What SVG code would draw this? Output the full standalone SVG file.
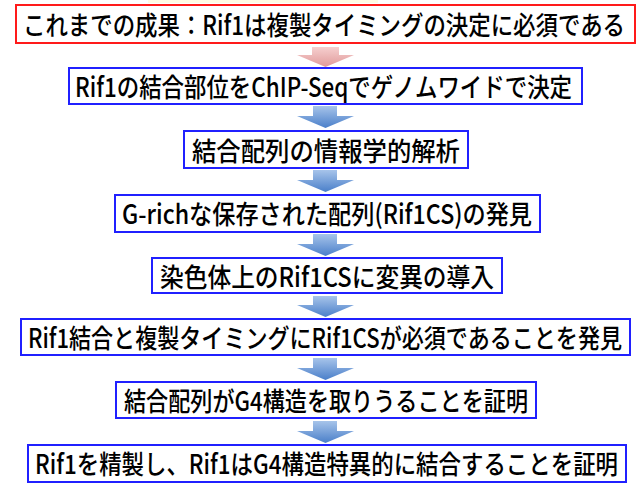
<svg xmlns="http://www.w3.org/2000/svg" width="641" height="485" viewBox="0 0 641 485">
<defs>
<linearGradient id="gb" x1="0" y1="0" x2="0" y2="1">
<stop offset="0" stop-color="#a7c4ea"/>
<stop offset="1" stop-color="#4a7fc9"/>
</linearGradient>
<linearGradient id="gp" x1="0" y1="0" x2="0" y2="1">
<stop offset="0" stop-color="#f6cfcf"/>
<stop offset="1" stop-color="#e09a9a"/>
</linearGradient>
<style>
.box{fill:#ffffff;stroke:#2020ff;stroke-width:2}
.red{fill:#ffffff;stroke:#ff1a1a;stroke-width:2}
.t{font-family:"Noto Sans CJK JP","Noto Sans",sans-serif;font-size:22px;font-weight:500;fill:#000000;dominant-baseline:central}
</style>
</defs>
<rect x="148" y="0" width="230" height="3" fill="#fffbe3"/>
<g id="connectors">
<path d="M312,47 H339 V55 H354 L325.5,67 L297,55 H312 Z" fill="url(#gp)"/>
<path d="M313,106 H337 V116 H354 L325.5,128 L297,116 H313 Z" fill="url(#gb)"/>
<path d="M313,170 H337 V180 H354 L325.5,192 L297,180 H313 Z" fill="url(#gb)"/>
<path d="M313,234 H337 V244 H354 L325.5,256 L297,244 H313 Z" fill="url(#gb)"/>
<path d="M313,296 H337 V305 H354 L325.5,317 L297,305 H313 Z" fill="url(#gb)"/>
<path d="M313,358 H337 V368 H354 L325.5,380 L297,368 H313 Z" fill="url(#gb)"/>
<path d="M313,421 H337 V431 H354 L325.5,443 L297,431 H313 Z" fill="url(#gb)"/>
</g>
<g id="n1"><rect class="red" x="16" y="5" width="619" height="38"/><text class="t" transform="translate(23,24) scale(1,1.2)" textLength="602" lengthAdjust="spacingAndGlyphs">これまでの成果：Rif1は複製タイミングの決定に必須である</text></g>
<g id="n2"><rect class="box" x="69" y="68" width="513" height="36"/><text class="t" transform="translate(75,86) scale(1,1.2)" textLength="497" lengthAdjust="spacingAndGlyphs">Rif1の結合部位をChIP-Seqでゲノムワイドで決定</text></g>
<g id="n3"><rect class="box" x="184" y="131" width="284" height="37"/><text class="t" transform="translate(192,150) scale(1,1.2)" textLength="268" lengthAdjust="spacingAndGlyphs">結合配列の情報学的解析</text></g>
<g id="n4"><rect class="box" x="115" y="195" width="425" height="37"/><text class="t" transform="translate(122,213) scale(1,1.2)" textLength="410" lengthAdjust="spacingAndGlyphs">G-richな保存された配列(Rif1CS)の発見</text></g>
<g id="n5"><rect class="box" x="152" y="258" width="350" height="35"/><text class="t" transform="translate(160,276) scale(1,1.2)" textLength="334" lengthAdjust="spacingAndGlyphs">染色体上のRif1CSに変異の導入</text></g>
<g id="n6"><rect class="box" x="21" y="319" width="609" height="36"/><text class="t" transform="translate(28,337) scale(1,1.2)" textLength="594" lengthAdjust="spacingAndGlyphs">Rif1結合と複製タイミングにRif1CSが必須であることを発見</text></g>
<g id="n7"><rect class="box" x="116" y="382" width="420" height="36"/><text class="t" transform="translate(124,400) scale(1,1.2)" textLength="404" lengthAdjust="spacingAndGlyphs">結合配列がG4構造を取りうることを証明</text></g>
<g id="n8"><rect class="box" x="28" y="445" width="598" height="37"/><text class="t" transform="translate(35,463) scale(1,1.2)" textLength="583" lengthAdjust="spacingAndGlyphs">Rif1を精製し、Rif1はG4構造特異的に結合することを証明</text></g>
</svg>
